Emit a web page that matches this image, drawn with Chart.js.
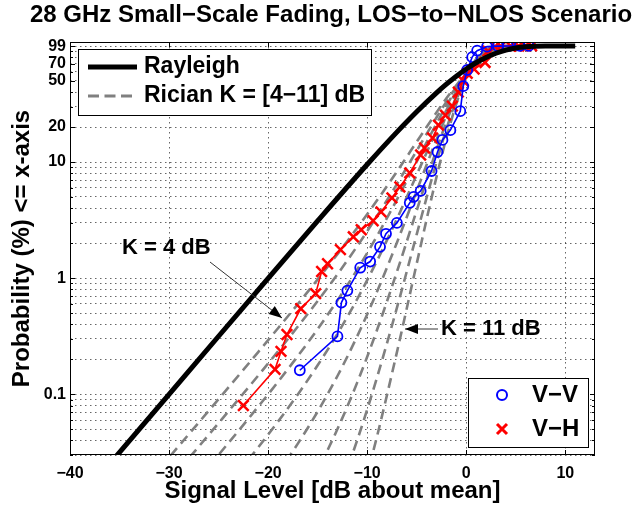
<!DOCTYPE html>
<html><head><meta charset="utf-8">
<script src="https://cdn.jsdelivr.net/npm/chart.js@4.4.1/dist/chart.umd.min.js"></script>
<style>html,body{margin:0;padding:0;background:#fff;}</style>
</head><body>
<canvas id="c" width="638" height="506" style="display:block;width:638px;height:506px"></canvas>
<script>
// ---------- data ----------
const TITLE = '28 GHz Small\u2212Scale Fading, LOS\u2212to\u2212NLOS Scenario';
const X_LABEL = 'Signal Level [dB about mean]';
const Y_LABEL = 'Probability (%) <= x-axis';
const X_TICKS = [-40, -30, -20, -10, 0, 10];
const Y_GRID = [0.03,0.04,0.05,0.06,0.07,0.08,0.09,0.1,0.2,0.3,0.4,0.5,0.6,0.7,0.8,0.9,1,2,3,4,5,6,7,8,9,10,20,30,40,50,60,70,80,90,99];
const Y_TICK_LABELS = [0.1, 1, 10, 20, 50, 70, 99];

const RAYLEIGH_X = [-36,-35,-30,-25,-20,-15,-10,-7,-5,-3,-2,-1,0,1,2,3,4,5,6,7,8,9,11];
const RAYLEIGH_P = [0.0251,0.0316,0.0999,0.316,0.995,3.11,9.52,18.09,27.1,39.4,46.8,54.8,63.2,71.6,79.5,86.4,91.9,95.8,98.13,99.33,99.82,99.96,100.0];

const RICIAN_X = [-33,-30,-27,-24,-21,-19,-17,-15,-13,-11,-9,-7,-5,-4,-3,-2,-1,0,1,2,3,4,5,6,8];
const RICIAN_K4  = [0.01430,0.02856,0.05714,0.1146,0.2310,0.3705,0.5981,0.9748,1.611,2.714,4.681,8.277,14.91,20.02,26.75,35.35,45.85,57.84,70.34,81.84,90.79,96.37,98.98,99.82,100.0];
const RICIAN_K5  = [null,0.01770,0.03547,0.07140,0.1449,0.2343,0.3830,0.6358,1.080,1.889,3.427,6.455,12.50,17.43,24.17,33.07,44.21,57.16,70.68,82.89,91.98,97.20,99.34,99.91,100.0];
const RICIAN_K6  = [null,null,0.01883,0.03811,0.07823,0.1281,0.2133,0.3641,0.6433,1.188,2.312,4.738,10.08,14.75,21.42,30.59,42.46,56.51,71.20,84.16,93.26,97.97,99.62,99.96,100.0];
const RICIAN_K7  = [null,null,null,0.01671,0.03488,0.05821,0.09975,0.1775,0.3320,0.6613,1.414,3.234,7.756,12.05,18.56,27.95,40.58,55.89,71.92,85.63,94.57,98.65,99.81,99.99,100.0];
const RICIAN_K8  = [null,null,null,null,0.01224,0.02102,0.03758,0.07094,0.1437,0.3170,0.7667,2.021,5.640,9.454,15.64,25.15,38.57,55.32,72.85,87.28,95.86,99.18,99.92,100.0,100.0];
const RICIAN_K9  = [null,null,null,null,null,null,0.01084,0.02223,0.05020,0.1266,0.3590,1.132,3.826,7.048,12.75,22.22,36.43,54.79,74.01,89.06,97.03,99.56,99.97,100.0,100.0];
const RICIAN_K10 = [null,null,null,null,null,null,null,null,0.01346,0.04036,0.1401,0.5547,2.381,4.937,9.985,19.21,34.15,54.31,75.39,90.91,98.04,99.80,99.99,100.0,100.0];
const RICIAN_K11 = [null,null,null,null,null,null,null,null,null,0.00972,0.04360,0.2297,1.333,3.202,7.438,16.18,31.71,53.87,77.00,92.76,98.82,99.92,100.0,100.0,100.0];

const VV_X = [-16.8,-13.0,-12.6,-12.0,-10.7,-9.7,-8.7,-8.1,-7.0,-5.7,-5.3,-4.6,-3.5,-2.9,-2.4,-1.6,-0.6,-0.3,0.1,0.6,1.1,2.1,3.2,4.2,5.4,6.3];
const VV_P = [0.161,0.315,0.616,0.781,1.23,1.39,1.86,2.41,2.99,4.45,5.01,5.64,8.37,12.2,15.5,18.8,27.4,45,62,80,91,98.5,99.5,99.7,99.9,100];

const VH_X = [-22.5,-19.3,-18.7,-18.1,-16.7,-15.2,-14.6,-14.0,-12.7,-11.4,-10.6,-9.4,-8.6,-7.5,-6.7,-5.7,-4.6,-4.2,-3.4,-2.8,-2.1,-1.4,-0.8,-0.3,0.1,0.8,1.9,2.2,2.9,3.5,4.5,5.3,6.0,6.6];
const VH_P = [0.080,0.164,0.234,0.327,0.547,0.736,1.14,1.33,1.76,2.27,2.61,3.12,3.72,4.91,6.10,8.05,11.5,13.2,16.1,20.8,25.3,30.3,40,50,58,63,72,90,98.5,99.2,99.5,99.7,99.9,100];

// ---------- helpers ----------
const FONT = '"Liberation Sans", Arial, Helvetica, sans-serif';
const pts = (xs, ys) => xs.map((x, i) => ({x: x, y: ys[i]}));
const rician = [RICIAN_K4,RICIAN_K5,RICIAN_K6,RICIAN_K7,RICIAN_K8,RICIAN_K9,RICIAN_K10,RICIAN_K11].map(arr => ({
  data: pts(RICIAN_X, arr), borderColor: '#808080', borderWidth: 2.6, borderDash: [10, 6],
  pointRadius: 0, cubicInterpolationMode: 'monotone', fill: false
}));

const overlay = {
  id: 'overlay',
  afterDraw(chart) {
    const {ctx, chartArea: a, scales: {x, y}} = chart;
    ctx.save();
    ctx.setLineDash([]);
    // axes box
    ctx.strokeStyle = '#000'; ctx.lineWidth = 1;
    ctx.strokeRect(a.left + 0.5, a.top + 0.5, a.right - a.left - 1, a.bottom - a.top - 1);
    // inner ticks
    ctx.beginPath();
    X_TICKS.forEach(v => {
      const px = Math.round(x.getPixelForValue(v)) + 0.5;
      ctx.moveTo(px, a.bottom); ctx.lineTo(px, a.bottom - 5);
      ctx.moveTo(px, a.top); ctx.lineTo(px, a.top + 5);
    });
    Y_GRID.forEach(v => {
      const py = Math.round(y.getPixelForValue(v)) + 0.5;
      const len = Y_TICK_LABELS.includes(v) ? 5 : 3;
      ctx.moveTo(a.left, py); ctx.lineTo(a.left + len, py);
      ctx.moveTo(a.right, py); ctx.lineTo(a.right - len, py);
    });
    ctx.stroke();

    // title
    ctx.fillStyle = '#000';
    ctx.font = 'bold 24px ' + FONT;
    ctx.textAlign = 'center'; ctx.textBaseline = 'middle';
    ctx.fillText(TITLE, 331, 15);

    // legend 1
    ctx.fillStyle = '#fff';
    ctx.fillRect(78.5, 49.5, 293, 66);
    ctx.strokeStyle = '#000'; ctx.lineWidth = 1;
    ctx.strokeRect(78.5, 49.5, 293, 66);
    ctx.lineCap = 'butt';
    ctx.beginPath(); ctx.strokeStyle = '#000'; ctx.lineWidth = 5;
    ctx.moveTo(88, 67); ctx.lineTo(137, 67); ctx.stroke();
    ctx.beginPath(); ctx.strokeStyle = '#808080'; ctx.lineWidth = 3; ctx.setLineDash([11, 5.5]);
    ctx.moveTo(88, 96); ctx.lineTo(137, 96); ctx.stroke();
    ctx.setLineDash([]);
    ctx.fillStyle = '#000'; ctx.font = 'bold 23px ' + FONT; ctx.textAlign = 'left';
    ctx.fillText('Rayleigh', 144, 67);
    ctx.fillText('Rician K = [4\u221211] dB', 144, 96);

    // legend 2
    ctx.fillStyle = '#fff';
    ctx.fillRect(468.5, 378.5, 120, 69);
    ctx.strokeStyle = '#000'; ctx.lineWidth = 1;
    ctx.strokeRect(468.5, 378.5, 120, 69);
    ctx.beginPath(); ctx.strokeStyle = '#0000ff'; ctx.lineWidth = 2;
    ctx.arc(502, 395, 5, 0, Math.PI * 2); ctx.stroke();
    ctx.beginPath(); ctx.strokeStyle = '#ff0000'; ctx.lineWidth = 3;
    ctx.moveTo(497, 424); ctx.lineTo(507, 434); ctx.moveTo(507, 424); ctx.lineTo(497, 434); ctx.stroke();
    ctx.fillStyle = '#000'; ctx.font = 'bold 24px ' + FONT;
    ctx.fillText('V\u2212V', 532, 395);
    ctx.fillText('V\u2212H', 532, 429);

    // annotations
    ctx.font = 'bold 22px ' + FONT;
    ctx.fillText('K = 4 dB', 122, 248);
    ctx.fillText('K = 11 dB', 441, 329);
    const arrow = (x1, y1, x2, y2) => {
      ctx.beginPath(); ctx.strokeStyle = '#333'; ctx.lineWidth = 1;
      ctx.moveTo(x1, y1); ctx.lineTo(x2, y2); ctx.stroke();
      const ang = Math.atan2(y2 - y1, x2 - x1), L = 13, W = 5;
      const bx = x2 - L * Math.cos(ang), by = y2 - L * Math.sin(ang);
      ctx.beginPath(); ctx.fillStyle = '#000';
      ctx.moveTo(x2, y2);
      ctx.lineTo(bx + W * Math.sin(ang), by - W * Math.cos(ang));
      ctx.lineTo(bx - W * Math.sin(ang), by + W * Math.cos(ang));
      ctx.closePath(); ctx.fill();
    };
    arrow(210, 262, 282, 318);
    arrow(438, 329, 405, 329);
    ctx.restore();
  }
};

new Chart(document.getElementById('c'), {
  type: 'line',
  data: {
    datasets: [
      {data: pts(RAYLEIGH_X, RAYLEIGH_P), borderColor: '#000', borderWidth: 5, pointRadius: 0, cubicInterpolationMode: 'monotone', fill: false},
      {data: pts(VV_X, VV_P), borderColor: '#0000ff', borderWidth: 1.6, pointStyle: 'circle', pointRadius: 5,
       pointBorderWidth: 1.8, pointBorderColor: '#0000ff', pointBackgroundColor: 'rgba(0,0,0,0)', tension: 0, fill: false},
      {data: pts(VH_X, VH_P), borderColor: '#ff0000', borderWidth: 1.6, pointStyle: 'crossRot', pointRadius: 7.5,
       pointBorderWidth: 2.5, pointBorderColor: '#ff0000', tension: 0, fill: false},
      ...rician
    ]
  },
  options: {
    responsive: false, animation: false, events: [],
    layout: {padding: {top: 42, right: 43, left: 0, bottom: 0}},
    plugins: {legend: {display: false}, tooltip: {enabled: false}, title: {display: false}},
    scales: {
      x: {
        type: 'linear', min: -40, max: 13,
        afterFit(s) { s.height = 51; },
        afterBuildTicks(s) { s.ticks = X_TICKS.map(v => ({value: v})); },
        ticks: {autoSkip: false, maxRotation: 0, padding: 9, color: '#000', font: {family: FONT, size: 16, weight: 'bold'},
                callback: v => (v < 0 ? '\u2212' + Math.abs(v) : String(v))},
        grid: {color: 'rgba(0,0,0,0.6)', lineWidth: 1, drawTicks: false},
        border: {display: false, dash: [1.5, 3.5]},
        title: {display: true, text: X_LABEL, color: '#000', font: {family: FONT, size: 24, weight: 'bold'}, padding: {top: 0, bottom: 0}}
      },
      y: {
        type: 'logarithmic', min: 0.03, max: 108,
        afterFit(s) { s.width = 70; },
        afterBuildTicks(s) { s.ticks = Y_GRID.map(v => ({value: v})); },
        ticks: {autoSkip: false, padding: 4, color: '#000', font: {family: FONT, size: 16, weight: 'bold'},
                callback: v => (Y_TICK_LABELS.includes(v) ? String(v) : '')},
        grid: {color: 'rgba(0,0,0,0.6)', lineWidth: 1, drawTicks: false},
        border: {display: false, dash: [1.5, 3.5]},
        title: {display: true, text: Y_LABEL, color: '#000', font: {family: FONT, size: 24, weight: 'bold'}, padding: {top: 8, bottom: 0}}
      }
    }
  },
  plugins: [overlay]
});
</script></body></html>
